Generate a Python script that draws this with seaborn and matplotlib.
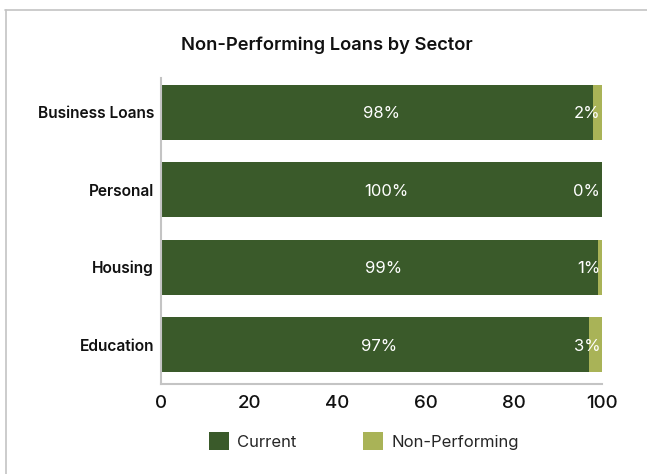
import matplotlib
matplotlib.use("Agg")
import matplotlib.pyplot as plt
import seaborn as sns
import pandas as pd
from matplotlib.lines import Line2D
from matplotlib.patches import Patch

sectors = ["Business Loans", "Personal", "Housing", "Education"]
current = [98, 100, 99, 97]
non_performing = [2, 0, 1, 3]

DARK = "#3a5a2a"
LIGHT = "#a9b357"
GRID = "#c4c4c4"

sns.set_theme(style="white")
plt.rcParams["font.family"] = ["Inter", "DejaVu Sans"]

df = pd.DataFrame({"sector": sectors, "current": current, "npl": non_performing})
df["total"] = df["current"] + df["npl"]

fig = plt.figure(figsize=(6.47, 4.74), dpi=100)
ax = fig.add_axes([161 / 647, 1 - 384 / 474, 441 / 647, 306 / 474])

# stacked bars: total underneath, current on top
sns.barplot(data=df, x="total", y="sector", orient="h", color=LIGHT,
            width=0.71, saturation=1, ax=ax, linewidth=0)
sns.barplot(data=df, x="current", y="sector", orient="h", color=DARK,
            width=0.71, saturation=1, ax=ax, linewidth=0)

ax.set_xlim(0, 100)
ax.set_ylim(3.51, -0.445)
ax.set_xlabel("")
ax.set_ylabel("")
ax.set_xticks([0, 20, 40, 60, 80, 100])
ax.tick_params(axis="x", direction="in", length=7, width=1.2, color=GRID,
               labelsize=13.5, pad=8, labelcolor="#111111")
ax.tick_params(axis="y", length=0, labelsize=11.2, pad=5, labelcolor="#111111")
for lbl in ax.get_yticklabels():
    lbl.set_fontweight("semibold")
    lbl.set_verticalalignment("center_baseline")
for lbl in ax.get_xticklabels():
    lbl.set_fontweight("medium")
for side in ["top", "right"]:
    ax.spines[side].set_visible(False)
for side in ["left", "bottom"]:
    ax.spines[side].set_color(GRID)
    ax.spines[side].set_linewidth(1.5)

for i, (c, n) in enumerate(zip(current, non_performing)):
    ax.text(c / 2 + 1, i, f"{c}%", ha="center", va="center_baseline",
            color="white", fontsize=12)
    ax.text(99.6, i, f"{n}%", ha="right", va="center_baseline",
            color="white", fontsize=12)

fig.text(0.505, 1 - 45 / 474, "Non-Performing Loans by Sector", ha="center",
         va="center", fontsize=13.2, fontweight="semibold", color="#111111")

handles = [Patch(facecolor=DARK, edgecolor="none"),
           Patch(facecolor=LIGHT, edgecolor="none")]
fig.legend(handles, ["Current", "Non-Performing"], loc="center",
           bbox_to_anchor=(364 / 647, 1 - 441 / 474), ncol=2, frameon=False,
           fontsize=12, handlelength=1.2, handleheight=1.2,
           handletextpad=0.5, columnspacing=4.0)

# light frame along the top and left edges
fig.add_artist(Line2D([5.5 / 647, 5.5 / 647], [0, 1 - 10 / 474],
                      transform=fig.transFigure, color=GRID, lw=1.2))
fig.add_artist(Line2D([5 / 647, 1], [1 - 10 / 474, 1 - 10 / 474],
                      transform=fig.transFigure, color=GRID, lw=1.2))

fig.savefig("out.png", dpi=100)
